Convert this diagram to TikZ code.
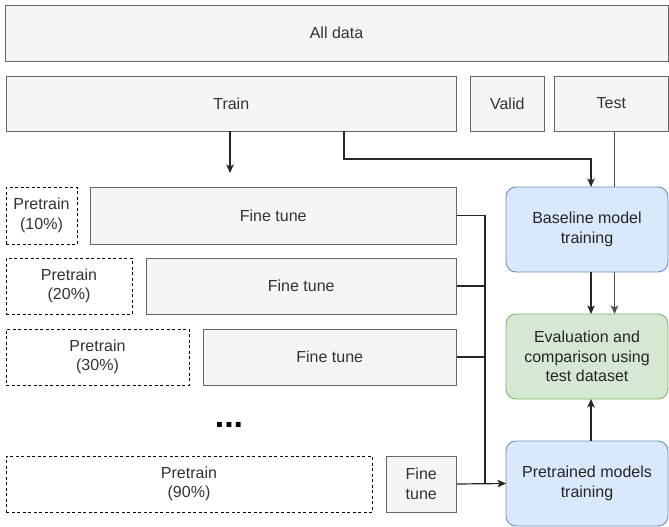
\documentclass[tikz,border=0pt]{standalone}
\usepackage{fontspec}
\setmainfont{Liberation Sans}
\usetikzlibrary{arrows.meta,backgrounds}
\definecolor{boxS}{HTML}{666666}
\definecolor{boxF}{HTML}{F5F5F5}
\definecolor{txt}{HTML}{333333}
\definecolor{blueS}{HTML}{6C8EBF}
\definecolor{blueF}{HTML}{DAE8FC}
\definecolor{greenS}{HTML}{82B366}
\definecolor{greenF}{HTML}{D5E8D4}
\newcommand{\dfont}{\fontsize{16}{19.5}\selectfont}
\tikzset{
  base/.style={inner sep=0pt, outer sep=0pt, align=center, font=\dfont, line width=0.9pt},
  graybox/.style={base, draw=boxS, fill=boxF, text=txt},
  dashbox/.style={base, draw=black, fill=white, text=txt, dash pattern=on 3pt off 2.5pt},
  bluebox/.style={base, rounded corners=10pt, draw=blueS, fill=blueF, text=black!85},
  greenbox/.style={base, rounded corners=10pt, draw=greenS, fill=greenF, text=black!85},
  conn/.style={line width=1.2pt, draw=black!85},
  arr/.style={conn, -{Stealth[length=8.5pt,width=7.5pt,inset=2pt]}},
}
\begin{document}
\begin{tikzpicture}[x=1pt,y=-1pt]
\path[use as bounding box] (0,0) rectangle (669,527);
% top rows
\node[graybox, minimum width=663pt, minimum height=56pt] (all) at (336.5,33) {All data};
\node[graybox, minimum width=450.5pt, minimum height=55pt] (train) at (231.25,103.5) {Train};
\node[graybox, minimum width=73.4pt, minimum height=55pt] (valid) at (507.3,103.5) {Valid};
\node[graybox, minimum width=113.4pt, minimum height=55pt] (test) at (611.3,103.5) {Test};
% pretrain / fine tune rows
\node[dashbox, minimum width=71pt, minimum height=57pt] (p10) at (41.5,215.5) {Pretrain\\(10\%)};
\node[graybox, minimum width=366.5pt, minimum height=57pt] (ft1) at (273.25,215.5) {Fine tune};
\node[dashbox, minimum width=126pt, minimum height=56pt] (p20) at (69,286) {Pretrain\\(20\%)};
\node[graybox, minimum width=310.5pt, minimum height=56pt] (ft2) at (301.25,286) {Fine tune};
\node[dashbox, minimum width=183pt, minimum height=56pt] (p30) at (97.5,357) {Pretrain\\(30\%)};
\node[graybox, minimum width=253.5pt, minimum height=56pt] (ft3) at (329.75,357) {Fine tune};
\node[inner sep=0pt, font=\fontsize{34}{34}\selectfont\bfseries, text=black] (dots) at (229,425) {...};
\node[dashbox, minimum width=366pt, minimum height=56pt] (p90) at (189,484) {Pretrain\\(90\%)};
\node[graybox, minimum width=70.5pt, minimum height=56pt] (ft9) at (421.25,484) {Fine\\tune};
% right column
\node[bluebox, minimum width=162pt, minimum height=85pt] (basel) at (587,229.5) {Baseline model\\training};
\node[greenbox, minimum width=162pt, minimum height=85pt] (eval) at (587,356.5) {Evaluation and\\comparison using\\test dataset};
\node[bluebox, minimum width=162pt, minimum height=85pt] (pre) at (587,483.5) {Pretrained models\\training};
% helper coordinates
\coordinate (tr1) at (230,173);
\coordinate (bend) at (344,159);
\coordinate (bx) at (591,0);
\coordinate (tx) at (614.5,0);
\coordinate (bus) at (485,0);
% connectors
\begin{scope}[on background layer]
\fill[white] (0,0) rectangle (669,527);
\draw[arr, draw=black!70] (test.south -| tx) -- (eval.north -| tx);
\end{scope}
\draw[arr] (train.south -| tr1) -- (tr1);
\draw[arr] (train.south -| bend) -- (bend) -| (basel.north -| bx);
\draw[arr] (basel.south -| bx) -- (eval.north -| bx);
\draw[conn] (ft1.east) -- (ft1.east -| bus) -- (ft9.east -| bus);
\draw[conn] (ft2.east) -- (ft2.east -| bus);
\draw[conn] (ft3.east) -- (ft3.east -| bus);
\draw[arr] (ft9.east) -- (pre.west);
\draw[arr] (pre.north -| bx) -- (eval.south -| bx);
\end{tikzpicture}
\end{document}
